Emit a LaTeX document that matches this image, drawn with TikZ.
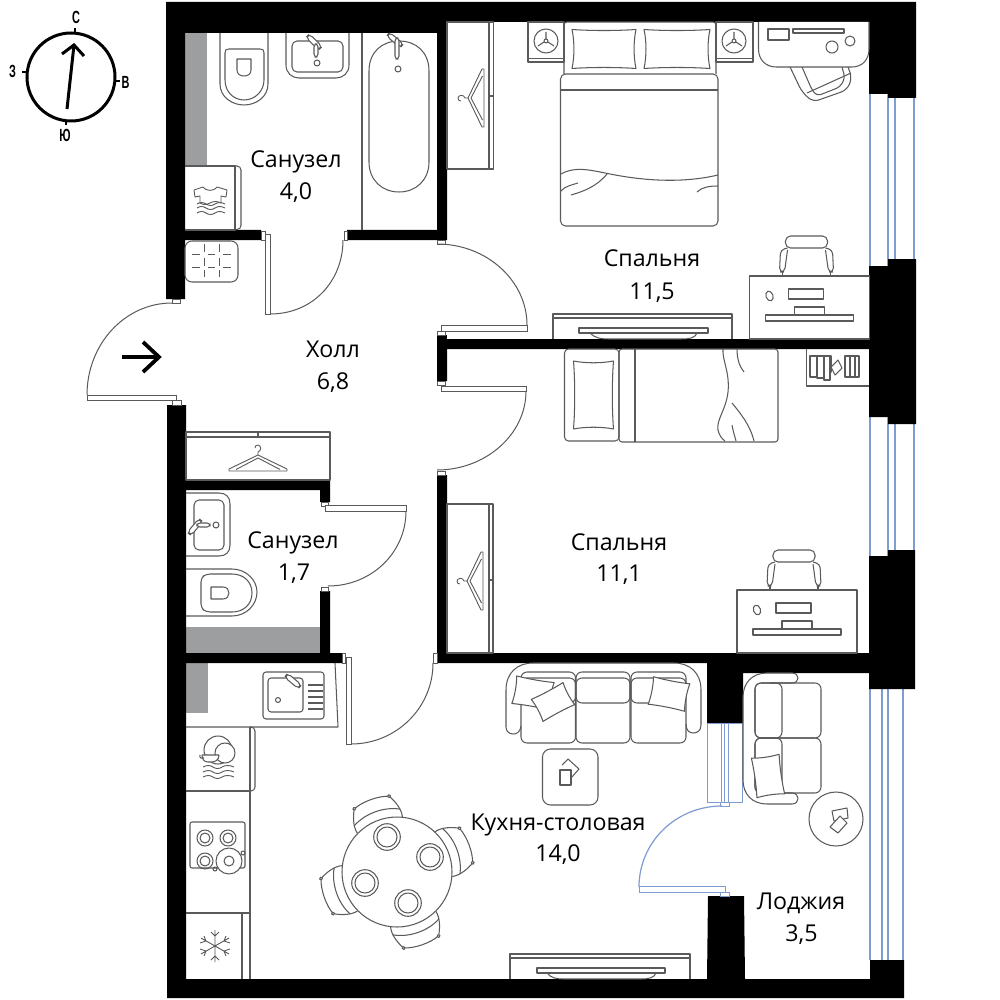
\documentclass[tikz,border=0pt]{standalone}
\usepackage{fontspec}
\setmainfont{Open Sans}
\newfontfamily\compassfont{Liberation Sans}
\definecolor{wallgrey}{HTML}{9D9EA0}
\definecolor{linegrey}{HTML}{5A5A5A}
\definecolor{winblue}{HTML}{7E9BD2}
\tikzset{
 wall/.style={fill=black,draw=none},
 shaft/.style={fill=wallgrey,draw=none},
 jamb/.style={draw=linegrey,fill=white,line width=.4pt},
 leaf/.style={draw=linegrey,fill=white,line width=.5pt},
 swing/.style={draw=linegrey,line width=.5pt},
 furn/.style={draw=linegrey,line width=.52pt,line join=round},
 win/.style={draw=winblue,line width=.75pt},
 thinwin/.style={draw=winblue,line width=.5pt},
 room/.style={font=\fontsize{11.6}{14}\selectfont,text=black,inner sep=0pt,anchor=base},
 compass/.style={font=\compassfont\bfseries\fontsize{8.8}{10}\selectfont,inner sep=0pt},
}
\newcommand\cmpL[1]{\scalebox{.62}[1]{#1}}
\newcommand\plHanger[3]{\begin{scope}[shift={(#1,#2)},rotate=#3]
 \draw[furn,line width=.45pt] (0,0)--(-29,14)--(-29,16)--(29,16)--(29,14)--cycle;
 \draw[furn,line width=.45pt] (0,3)--(-22,14.5) (0,3)--(22,14.5);
 \draw[furn,line width=.45pt] (0,0)--(0,-3) .. controls (4,-4) and (3,-10) .. (0,-10) .. controls (-2,-10) and (-3,-9) .. (-3,-7);
\end{scope}}
\newcommand\plDesk[2]{\begin{scope}[shift={(#1,#2)}]
 \draw[furn] (0,0) rectangle (120,63);
 \draw[furn,rounded corners=2.5pt] (36,-40) rectangle (78,-28);
 \draw[furn,rounded corners=2pt] (38,-28)--(31,-26)--(30,-4)--(35,-4)--(38,-26);
 \draw[furn,rounded corners=2pt] (76,-28)--(83,-26)--(84,-4)--(79,-4)--(76,-26);
 \draw[furn] (33,-4)--(33,0) (81,-4)--(81,0);
 \draw[furn,rotate around={20:(20,20)}] (20,20) ellipse (3.5 and 5);
 \draw[furn] (39,13) rectangle (74,23);
 \draw[furn] (45,31) rectangle (75,45);
 \draw[furn,fill=white] (16,39) rectangle (104,45);
\end{scope}}
\newcommand\plNight[2]{\begin{scope}[shift={(#1,#2)}]
 \draw[furn] (0,0) circle (12);
 \draw[furn] (0,0) circle (2);
 \draw[furn] (0,-2)--(0,-9) (-2,1)--(-8,5) (2,1)--(8,5);
\end{scope}}
\newcommand\plPlate[2]{\draw[furn] (#1,#2) circle (13.3) (#1,#2) circle (10);}
\newcommand\plChair[1]{\begin{scope}[shift={(397,872)},rotate=#1]
 \draw[furn,fill=white] (-24,-50) .. controls (-26,-58) and (-22,-68) .. (-18.5,-74) .. controls (-8,-78) and (8,-78) .. (18.5,-74) .. controls (22,-68) and (26,-58) .. (24,-50);
 \draw[furn] (-24.5,-58) .. controls (-10,-66) and (10,-66) .. (24.5,-58);
 \draw[furn,fill=white] (-18.5,-74) circle (1.5) (18.5,-74) circle (1.5);
\end{scope}}
\newcommand\plFaucet[3]{\begin{scope}[shift={(#1,#2)},rotate=#3]
 \draw[furn,fill=white,rounded corners=2pt] (-9,-2.5) rectangle (9,2.5);
\end{scope}}
\newcommand\plPillow[5]{\begin{scope}[shift={(#1,#2)},rotate=#5]
 \draw[furn,fill=white] (-#3,-#4) .. controls (-#3*.4,-#4*.93) and (#3*.4,-#4*.93) .. (#3,-#4)
   .. controls (#3*.92,-#4*.4) and (#3*.92,#4*.4) .. (#3,#4)
   .. controls (#3*.4,#4*.93) and (-#3*.4,#4*.93) .. (-#3,#4)
   .. controls (-#3*.92,#4*.4) and (-#3*.92,-#4*.4) .. (-#3,-#4) -- cycle;
\end{scope}}
\begin{document}
\begin{tikzpicture}[x=.5pt,y=-.5pt]
\useasboundingbox (0,0) rectangle (1000,1000);
\fill[white] (0,0) rectangle (1000,1000);

% shafts
\path[shaft] (185,33) rectangle (207,165);
\path[shaft] (186,627) rectangle (320,653);
\path[shaft] (186,663) rectangle (208,713);

% windows
\draw[win] (870,94)--(870,266) (888,94)--(888,266) (895,94)--(895,266) (914,94)--(914,266);
\draw[win] (870,417)--(870,556) (888,417)--(888,556) (895,417)--(895,556) (914,417)--(914,556);
\draw[win] (870,689)--(870,960) (882,689)--(882,960) (888,689)--(888,960) (903,689)--(903,960);

% walls
\path[wall] (166,2)--(916,2)--(916,98)--(888,98)--(888,94)--(869,94)--(869,22)--(447,22)--(447,240)--(347,240)--(347,230)--(437,230)--(437,33)--(185,33)--(185,230)--(261,230)--(261,240)--(185,240)--(185,299)--(166,299)--cycle;
\path[wall] (869,266)--(888,266)--(888,259)--(916,259)--(916,424)--(888,424)--(888,417)--(869,417)--cycle;
\path[wall] (437,339)--(869,339)--(869,349)--(447,349)--(447,381)--(437,381)--cycle;
\path[wall] (437,335)--(447,335)--(447,339)--(437,339)--cycle;
\path[wall] (869,556)--(888,556)--(888,550)--(915,550)--(915,689)--(869,689)--(869,673)--(743,673)--(743,723)--(707,723)--(707,663)--(447,663)--(437,663)--(437,475)--(447,475)--(447,653)--(869,653)--cycle;
\path[wall] (167,405)--(186,405)--(186,480)--(330,480)--(330,502)--(320,502)--(320,490)--(186,490)--(186,653)--(320,653)--(320,591)--(330,591)--(330,653)--(342,653)--(342,663)--(186,663)--(186,979)--(707,979)--(708,896)--(744,896)--(745,979)--(870,979)--(870,960)--(904,960)--(904,998)--(167,998)--cycle;

% door jambs
\draw[jamb] (261,231) rectangle (265,240);
\draw[jamb] (344,231) rectangle (347,240);
\draw[jamb] (172,299) rectangle (180,303);
\draw[jamb] (172,400) rectangle (181,405);
\draw[jamb] (437,240) rectangle (445,244);
\draw[jamb] (437,331) rectangle (445,335);
\draw[jamb] (437,381) rectangle (445,385);
\draw[jamb] (437,471) rectangle (445,475);
\draw[jamb] (321,502) rectangle (328,506);
\draw[jamb] (321,587) rectangle (328,591);
\draw[jamb] (342,653) rectangle (345,663);
\draw[jamb] (433,653) rectangle (437,663);

% door leaves and swings
\draw[leaf] (265,235) rectangle (270,314);
\draw[swing] (270,314) .. controls (313,314) and (343,281) .. (343,240);
\draw[leaf] (87,395) rectangle (176,400);
\draw[swing] (87,395) .. controls (87,344) and (125,303) .. (172,303);
\draw[leaf] (441,325) rectangle (527,331);
\draw[swing] (527,325) .. controls (527,281) and (487,244) .. (437,244);
\draw[leaf] (441,386) rectangle (526,391);
\draw[swing] (526,391) .. controls (526,435) and (485,470) .. (437,470);
\draw[leaf] (325,505) rectangle (406,511);
\draw[swing] (406,511) .. controls (406,553) and (371,586) .. (328,586);
\draw[leaf] (346,657) rectangle (351,744);
\draw[swing] (351,744) .. controls (396,744) and (433,708) .. (433,663);

% loggia window and door
\draw[thinwin] (707,723) rectangle (742,802);
\draw[thinwin] (721,723)--(721,802) (724,723)--(724,802) (728,723)--(728,806);
\draw[thinwin,fill=white] (720,802) rectangle (729,806);
\draw[thinwin,fill=white] (639,886) rectangle (725,892);
\draw[thinwin,fill=white] (720,892) rectangle (729,896);
\draw[win,line width=.6pt] (639,887) .. controls (639,842) and (676,806) .. (722,806);

% entry arrow
\draw[black,line width=1.9pt] (122,357)--(158,357);
\draw[black,line width=1.9pt] (143,342)--(159,357)--(143,372);

% ---- bathroom 1 ----
\draw[furn] (362,33)--(362,230);
\draw[furn] (369,71) .. controls (369,52) and (382,41) .. (399,41) .. controls (416,41) and (429,52) .. (429,71)--(429,162) .. controls (429,180) and (416,192) .. (399,192) .. controls (382,192) and (369,180) .. (369,162)--cycle;
\plFaucet{395}{40}{-40}
\draw[furn,fill=white,rounded corners=1.5pt] (395,38) rectangle (399,59);
\draw[furn] (398,69) circle (3);
\draw[furn] (220,33)--(220,84) .. controls (220,97) and (232,105) .. (244,105) .. controls (256,105) and (268,97) .. (268,84)--(268,33);
\draw[furn] (225,53) .. controls (225,50) and (226,49) .. (229,49)--(260,49) .. controls (263,49) and (264,50) .. (264,53)--(264,80) .. controls (264,91) and (255,100) .. (244,100) .. controls (233,100) and (225,91) .. (225,80)--cycle;
\draw[furn] (237,59)--(251,59)--(251,70) .. controls (251,74) and (248,76) .. (244,76) .. controls (240,76) and (237,74) .. (237,70)--cycle;
\draw[furn] (286,33)--(286,65) .. controls (286,73) and (292,78) .. (299,78)--(336,78) .. controls (343,78) and (349,73) .. (349,65)--(349,33);
\draw[furn,rounded corners=2.5pt] (292,41) rectangle (343,72);
\plFaucet{314}{42}{-45}
\draw[furn,fill=white,rounded corners=1.5pt] (314,44) rectangle (318,57);
\draw[furn] (317,63) circle (3);
% washer
\draw[furn] (185,166)--(235,166)--(235,230)--(185,230);
\draw[furn,rounded corners=2pt] (235,166)--(241,166)--(241,229.5)--(235,229.5);
\draw[furn,line width=.45pt] (203,187) .. controls (205,191.5) and (215,191.5) .. (217,187)--(227,190)--(226,197)--(221,196)--(221,203)
  .. controls (217,201) and (214,201) .. (210,203) .. controls (206,205) and (203,205) .. (200,203)--(200,196)--(195,197)--(194,190)--cycle;
\foreach \yy in {204,208,213}{
 \draw[furn,line width=.45pt] (197,\yy) .. controls (200,\yy-2) and (203,\yy-2) .. (206,\yy) .. controls (209,\yy+2) and (212,\yy+2) .. (215,\yy) .. controls (218,\yy-2) and (221,\yy-2) .. (225,\yy);}
% floor drain unit
\draw[furn,rounded corners=3.5pt] (185,241) rectangle (238,282);
\draw[furn,line width=.45pt] (192,254)--(200,254) (208,254)--(215,254) (223,254)--(231,254)
 (192,267)--(200,267) (208,267)--(215,267) (223,267)--(231,267)
 (204,244)--(204,252) (204,258)--(204,266) (204,270)--(204,277)
 (219,244)--(219,252) (219,258)--(219,266) (219,270)--(219,277);

% ---- bathroom 2 ----
\draw[furn] (186,493)--(219,493) .. controls (226,493) and (230,497) .. (230,504)--(230,545) .. controls (230,552) and (226,556) .. (219,556)--(186,556);
\draw[furn,rounded corners=2.5pt] (194,500) rectangle (224,550);
\plFaucet{195}{527}{-130}
\draw[furn,fill=white,rounded corners=1.5pt] (197,523) rectangle (210,527);
\draw[furn] (216,525) circle (3);
\draw[furn] (186,569)--(232,569) .. controls (246,569) and (257,580) .. (257,592) .. controls (257,605) and (246,616) .. (232,616)--(186,616);
\draw[furn,rounded corners=2pt] (232,574)--(206,574)--(201,578)--(201,608)--(206,612)--(232,612);
\draw[furn] (232,574) .. controls (244,574) and (252,582) .. (252,593) .. controls (252,604) and (244,612) .. (232,612);
\draw[furn] (211,587)--(223,587) .. controls (227,587) and (229,590) .. (229,593) .. controls (229,596) and (227,599) .. (223,599)--(211,599)--cycle;

% ---- hall wardrobe ----
\draw[furn] (186,432) rectangle (330,480);
\draw[furn] (186,437)--(330,437) (258,432)--(258,437);
\plHanger{258}{455}{0}

% ---- bedroom 1 ----
\draw[furn] (447,22) rectangle (493.5,169);
\draw[furn] (489,22)--(489,169) (489,96)--(493.5,96);
\plHanger{468}{98}{90}
\draw[furn] (528,22) rectangle (564,62);
\draw[furn] (528,58.5)--(564,58.5);
\draw[furn] (716,22) rectangle (753,62);
\draw[furn] (716,58.5)--(753,58.5);
\plNight{546}{41}
\plNight{734}{41}
\draw[furn,rounded corners=1.5pt] (564,74)--(564,22)--(716,22)--(716,74);
\plPillow{604}{49}{32}{19.5}{0}
\plPillow{677}{49}{33}{19.5}{0}
\draw[furn,rounded corners=2.5pt] (560.5,74) rectangle (718,226);
\draw[furn] (561,90)--(718,90);
\draw[furn] (561,174) .. controls (575,166) and (590,170) .. (610,174) .. controls (640,180) and (680,184) .. (718,175);
\draw[furn] (561,191) .. controls (565,186) and (572,185) .. (578,183);
\draw[furn] (571,195) .. controls (585,191) and (597,186) .. (607,174);
\draw[furn] (697,192) .. controls (702,187) and (710,186) .. (718,186);
% desk top right
\draw[furn,rounded corners=3pt] (790,67)--(802,92)--(813,102)--(847,90)--(852,78)--(848,67);
\draw[furn,rounded corners=2pt] (802,67)--(812,90)--(817,96)--(840,87)--(845,78)--(842,67);
\draw[furn] (807,93)--(851,73);
\draw[furn,fill=white] (758.5,22)--(758.5,49) .. controls (758.5,60) and (766,67) .. (776,67)--(852,67) .. controls (862,67) and (869,60) .. (869,49)--(869,22);
\draw[furn] (768,29) rectangle (789,40);
\draw[furn] (793,29) rectangle (844,33);
\draw[furn] (832,47) circle (6);
\draw[furn] (850,41) circle (5);
% tv stand
\draw[furn] (553,339)--(553,314)--(732,314)--(732,339);
\draw[furn] (553,318)--(732,318);
\draw[furn] (579,328) rectangle (708,333);
\draw[furn] (590,333) .. controls (595,338) and (600,339) .. (610,339)--(680,339) .. controls (690,339) and (695,338) .. (697,333);
\plDesk{749.5}{276}

% ---- bedroom 2 ----
\draw[furn,rounded corners=2pt] (564.5,349) rectangle (619,441);
\plPillow{593.5}{395}{20}{34}{0}
\draw[furn,rounded corners=1.5pt] (619,349) rectangle (778,442);
\draw[furn] (635,349)--(635,442);
\draw[furn] (723,349) .. controls (722,360) and (730,372) .. (728,392) .. controls (726,410) and (716,420) .. (718,430) .. controls (719,435) and (722,439) .. (725,441);
\draw[furn] (737,349) .. controls (737,358) and (739,366) .. (744,372);
\draw[furn] (732,403) .. controls (741,414) and (750,425) .. (754,441);
\draw[furn] (732,425) .. controls (733,431) and (735,437) .. (736,441);
\draw[furn] (447,504) rectangle (493,653);
\draw[furn] (489,504)--(489,653) (489,580)--(493,580);
\plHanger{467}{581}{90}
\draw[furn] (806.5,349)--(806.5,386)--(869,386);
\draw[furn] (810,356) rectangle (817,377);
\draw[furn] (817,356) rectangle (824,378);
\draw[furn] (824,356) rectangle (830,380);
\draw[furn] (830,356) rectangle (831,372);
\draw[furn] (831,367)--(838,360)--(842,368)--(835,375)--cycle;
\draw[furn] (845,356) rectangle (859,377);
\draw[furn] (850,356)--(850,377) (855,356)--(855,377);
\plDesk{737}{590}

% ---- kitchen ----
\draw[furn] (186,727)--(338,727)--(335,663);
\draw[furn,rounded corners=1.5pt] (263,672) rectangle (324,719);
\draw[furn,rounded corners=1.5pt] (268,678) rectangle (303,712);
\draw[furn] (308,685)--(323,685) (308,691)--(323,691) (308,697)--(323,697) (308,703)--(323,703) (308,709)--(323,709);
\plFaucet{293}{681}{-40}
\draw[furn] (278,700) circle (2.5);
\draw[furn] (186,791)--(250,791);
\draw[furn] (250,727)--(250,979);
\draw[furn,rounded corners=2pt] (250,727)--(255,727)--(255,791)--(250,791);
\draw[furn] (218,750) circle (14);
\draw[furn,fill=white] (225,753) circle (10);
\draw[furn,fill=white] (204,755)--(219,755) .. controls (219,760) and (215,762) .. (212,762)--(208,762) .. controls (204,762) and (202,759) .. (202,755)--cycle;
\draw[furn] (200,755) .. controls (199,758) and (202,759) .. (204,758);
\foreach \yy in {767,772,777}{
 \draw[furn,line width=.45pt] (203,\yy) .. controls (207,\yy-2) and (210,\yy-2) .. (213,\yy) .. controls (216,\yy+2) and (219,\yy+2) .. (222,\yy) .. controls (225,\yy-2) and (230,\yy-2) .. (234,\yy);}
\draw[furn,rounded corners=1pt] (190,822) rectangle (245,868);
\draw[furn] (205,838) circle (8) (205,838) circle (5);
\draw[furn] (228,838) circle (8) (228,838) circle (5);
\draw[furn] (205,861) circle (8) (205,861) circle (5);
\draw[furn] (243,853) circle (2) (215,869) circle (2);
\draw[furn,fill=white] (229,861) circle (13);
\draw[furn] (229,861) circle (5);
\draw[furn] (186,913)--(250,913);
\draw[furn] (242,913)--(242,979);
\draw[furn,line width=.45pt] (215,930)--(215,962) (201,938)--(229,954) (201,954)--(229,938)
 (211,932)--(215,936)--(219,932) (211,960)--(215,956)--(219,960)
 (200,943)--(206,941)--(204,936) (230,949)--(224,951)--(226,956)
 (200,949)--(206,951)--(204,956) (230,943)--(224,941)--(226,936);
% dining
\plChair{20}\plChair{-69}\plChair{-161}\plChair{109}
\draw[furn,fill=white] (397,872) circle (55);
\plPlate{387}{837}\plPlate{430}{857}\plPlate{365}{883}\plPlate{408}{903}
% sofa
\draw[furn] (521,726) .. controls (520,733) and (516,734) .. (513,734) .. controls (509,734) and (506,731) .. (506,727)--(506,690) .. controls (506,673) and (517,663) .. (533,663)--(674,663) .. controls (690,663) and (701,673) .. (701,690)--(701,725) .. controls (701,731) and (697,733) .. (693,733) .. controls (689,733) and (686,730) .. (686,724);
\draw[furn,rounded corners=3pt] (521,672) rectangle (575.5,743);
\draw[furn,rounded corners=3pt] (576,672) rectangle (630,743);
\draw[furn,rounded corners=3pt] (631,672) rectangle (686,743);
\draw[furn,rounded corners=3pt] (521,678) rectangle (575.5,703);
\draw[furn,rounded corners=3pt] (576,678) rectangle (630,703);
\draw[furn,rounded corners=3pt] (631,678) rectangle (686,703);
\plPillow{533}{693}{19}{14}{-10}
\plPillow{553}{702}{18}{12.5}{28}
\plPillow{669}{694}{18.5}{14}{-11}
\draw[furn,rounded corners=4pt] (542.5,749) rectangle (598,805);
\draw[furn] (562,765)--(568,759)--(579,769)--(571,778);
\draw[furn,fill=white] (560,770) rectangle (571,785);
% kitchen tv
\draw[furn] (510,979)--(510,954)--(690,954)--(690,979);
\draw[furn] (510,958)--(690,958);
\draw[furn] (537,968) rectangle (665,973);
\draw[furn] (547,973) .. controls (551,978) and (556,979) .. (565,979)--(640,979) .. controls (649,979) and (654,978) .. (656,973);

% ---- loggia ----
\draw[furn] (792,673)--(767,673) .. controls (752,673) and (743,683) .. (743,697)--(743,780) .. controls (743,794) and (752,804) .. (767,804)--(792,804) .. controls (800,804) and (800,793) .. (792,793)--(770,793);
\draw[furn] (792,673) .. controls (800,673) and (800,683) .. (792,683)--(770,683);
\draw[furn,rounded corners=3pt] (755,683) rectangle (821,738);
\draw[furn,rounded corners=3pt] (755,738) rectangle (821,793);
\draw[furn,rounded corners=3pt] (755,683) rectangle (782,738);
\draw[furn,rounded corners=3pt] (755,738) rectangle (782,793);
\plPillow{768}{776}{14}{20}{8}
\draw[furn] (836,819) circle (27);
\draw[furn] (832,811)--(847,808)--(848,818)--(834,821)--cycle;
\draw[furn,fill=white] (830,827)--(840,816)--(847,823)--(838,833)--cycle;

% compass
\draw[black,line width=1.5pt] (71,77) circle (44);
\draw[black,line width=1.2pt] (75,33)--(75,28) (115,81)--(120,81) (66,120)--(66,125) (27,72)--(22,72);
\draw[black,line width=1.5pt] (67,109)--(74,45);
\draw[black,line width=1.5pt] (62,54)--(74,45)--(84,56);
\node[compass] (cN) at (76,17) {\cmpL{С}};
\node[compass] (cW) at (12.5,71) {\cmpL{З}};
\node[compass] (cE) at (125.5,82) {\cmpL{В}};
\node[compass] (cS) at (65,135) {\cmpL{Ю}};

% labels
\node[room] (t1a) at (296,167.3) {Санузел};
\node[room] (t1b) at (296,199) {4,0};
\node[room] (t2a) at (333,357.7) {Холл};
\node[room] (t2b) at (333,389.3) {6,8};
\node[room] (t3a) at (652,266.7) {Спальня};
\node[room] (t3b) at (652,299) {11,5};
\node[room] (t4a) at (619,550.7) {Спальня};
\node[room] (t4b) at (619,581.7) {11,1};
\node[room] (t5a) at (293,548.3) {Санузел};
\node[room] (t5b) at (294,580) {1,7};
\node[room] (t6a) at (558,830) {Кухня-столовая};
\node[room] (t6b) at (558,861) {14,0};
\node[room] (t7a) at (801,909.3) {Лоджия};
\node[room] (t7b) at (801.5,941) {3,5};
\end{tikzpicture}
\end{document}
